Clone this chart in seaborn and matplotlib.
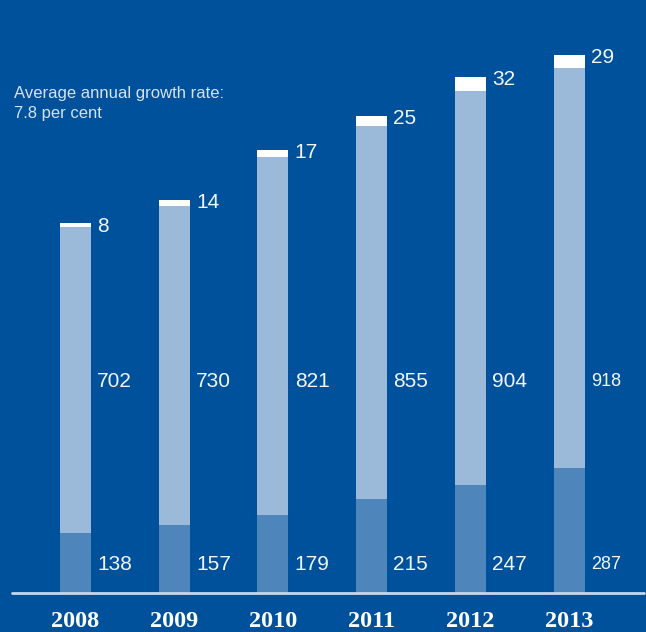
import matplotlib
matplotlib.use("Agg")
import matplotlib.pyplot as plt
import seaborn as sns
import pandas as pd

# Stacked components per year
years = ["2008", "2009", "2010", "2011", "2012", "2013"]
base_part = [138, 157, 179, 215, 247, 287]
middle_part = [702, 730, 821, 855, 904, 918]
top_part = [8, 14, 17, 25, 32, 29]

BG = "#00519c"
LIGHT = "#9bb9d8"
DARK = "#4e86bb"
CAP = "#ffffff"
TEXT = "#f2f6fb"

sns.set_theme(style="white")
plt.rcParams["font.family"] = ["Liberation Sans", "DejaVu Sans"]

df = pd.DataFrame({
    "year": years,
    "base": base_part,
    "lower": [b + m for b, m in zip(base_part, middle_part)],
    "total": [b + m + t for b, m, t in zip(base_part, middle_part, top_part)],
})

fig = plt.figure(figsize=(6.46, 6.32), dpi=100)
fig.patch.set_facecolor(BG)
ax = fig.add_axes([0, 39 / 632, 1, 593 / 632])
ax.set_facecolor(BG)

bar_w = 0.314
# overlapping bars give the stacked look: total, then base+middle, then base
for col, colour in (("total", CAP), ("lower", LIGHT), ("base", DARK)):
    sns.barplot(data=df, x="year", y=col, color=colour, width=bar_w,
                saturation=1, linewidth=0, edgecolor=colour, ax=ax)

px_per_unit = 0.436
ax.set_ylim(0, 593 / px_per_unit)
ax.set_xlim(-0.765, 5.78)

for s in ax.spines.values():
    s.set_visible(False)
ax.set_xlabel("")
ax.set_ylabel("")
ax.set_yticks([])
ax.tick_params(axis="x", length=0, pad=13)
ax.set_xticks(range(len(years)))
ax.set_xticklabels(years, fontsize=17.5, fontweight="bold",
                   family="Liberation Serif", color="#ffffff")

# baseline
ax.axhline(0, xmin=12 / 646, xmax=644 / 646, color="#c6d7ea", lw=2,
           clip_on=False, zorder=5)

# value labels to the right of each bar
base_y = 66
mid_y = 486
for i in range(len(years)):
    xr = i + bar_w / 2
    small = years[i] == "2013"
    fs = 13 if small else 15
    ax.annotate(str(base_part[i]), xy=(xr, base_y), xytext=(4.5, 0),
                textcoords="offset points", ha="left", va="center",
                fontsize=fs, color=TEXT)
    ax.annotate(str(middle_part[i]), xy=(xr, mid_y), xytext=(4.5, 0),
                textcoords="offset points", ha="left", va="center",
                fontsize=fs, color=TEXT)
    ax.annotate(str(top_part[i]), xy=(xr, df["total"][i]), xytext=(4.5, -2),
                textcoords="offset points", ha="left", va="center",
                fontsize=15, color=TEXT)

fig.text(14 / 646, 1 - 103.5 / 632,
         "Average annual growth rate:\n7.8 per cent",
         ha="left", va="center", fontsize=12, color="#d6e2f0",
         linespacing=1.45)

fig.savefig("out.png", dpi=100, facecolor=BG)
